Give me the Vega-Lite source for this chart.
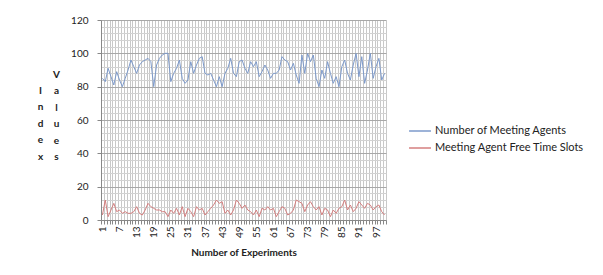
{
  "$schema": "https://vega.github.io/schema/vega-lite/v6.json",
  "width": 285,
  "height": 200,
  "autosize": "none",
  "padding": {"left": 101, "top": 20, "right": 217, "bottom": 55},
  "background": "white",
  "config": {"view": {"stroke": null}, "font": "Lato"},
  "data": {"values": [
    {"exp":1,"agents":85,"slots":3},{"exp":2,"agents":83,"slots":12},{"exp":3,"agents":91,"slots":2},{"exp":4,"agents":86,"slots":6},{"exp":5,"agents":81,"slots":10},
    {"exp":6,"agents":89,"slots":5},{"exp":7,"agents":84,"slots":6},{"exp":8,"agents":80,"slots":4},{"exp":9,"agents":85,"slots":5},{"exp":10,"agents":90,"slots":4},
    {"exp":11,"agents":96,"slots":4},{"exp":12,"agents":92,"slots":5},{"exp":13,"agents":88,"slots":8},{"exp":14,"agents":93,"slots":4},{"exp":15,"agents":95,"slots":3},
    {"exp":16,"agents":96,"slots":6},{"exp":17,"agents":97,"slots":10},{"exp":18,"agents":95,"slots":8},{"exp":19,"agents":80,"slots":7},{"exp":20,"agents":93,"slots":6},
    {"exp":21,"agents":97,"slots":6},{"exp":22,"agents":99,"slots":5},{"exp":23,"agents":100,"slots":5},{"exp":24,"agents":100,"slots":2},{"exp":25,"agents":83,"slots":6},
    {"exp":26,"agents":88,"slots":4},{"exp":27,"agents":91,"slots":7},{"exp":28,"agents":96,"slots":3},{"exp":29,"agents":85,"slots":8},{"exp":30,"agents":82,"slots":2},
    {"exp":31,"agents":84,"slots":7},{"exp":32,"agents":95,"slots":5},{"exp":33,"agents":88,"slots":2},{"exp":34,"agents":93,"slots":8},{"exp":35,"agents":97,"slots":6},
    {"exp":36,"agents":98,"slots":7},{"exp":37,"agents":88,"slots":3},{"exp":38,"agents":87,"slots":5},{"exp":39,"agents":88,"slots":7},{"exp":40,"agents":84,"slots":9},
    {"exp":41,"agents":80,"slots":12},{"exp":42,"agents":86,"slots":10},{"exp":43,"agents":80,"slots":11},{"exp":44,"agents":88,"slots":4},{"exp":45,"agents":91,"slots":6},
    {"exp":46,"agents":97,"slots":3},{"exp":47,"agents":88,"slots":6},{"exp":48,"agents":86,"slots":12},{"exp":49,"agents":95,"slots":10},{"exp":50,"agents":96,"slots":7},
    {"exp":51,"agents":91,"slots":9},{"exp":52,"agents":88,"slots":6},{"exp":53,"agents":95,"slots":5},{"exp":54,"agents":92,"slots":3},{"exp":55,"agents":95,"slots":6},
    {"exp":56,"agents":86,"slots":2},{"exp":57,"agents":89,"slots":7},{"exp":58,"agents":93,"slots":6},{"exp":59,"agents":90,"slots":8},{"exp":60,"agents":85,"slots":6},
    {"exp":61,"agents":88,"slots":7},{"exp":62,"agents":88,"slots":2},{"exp":63,"agents":90,"slots":5},{"exp":64,"agents":98,"slots":8},{"exp":65,"agents":96,"slots":7},
    {"exp":66,"agents":95,"slots":3},{"exp":67,"agents":90,"slots":4},{"exp":68,"agents":94,"slots":6},{"exp":69,"agents":87,"slots":12},{"exp":70,"agents":82,"slots":11},
    {"exp":71,"agents":99,"slots":10},{"exp":72,"agents":88,"slots":5},{"exp":73,"agents":100,"slots":9},{"exp":74,"agents":95,"slots":11},{"exp":75,"agents":99,"slots":8},
    {"exp":76,"agents":85,"slots":6},{"exp":77,"agents":80,"slots":8},{"exp":78,"agents":90,"slots":3},{"exp":79,"agents":85,"slots":7},{"exp":80,"agents":95,"slots":6},
    {"exp":81,"agents":88,"slots":2},{"exp":82,"agents":82,"slots":6},{"exp":83,"agents":86,"slots":4},{"exp":84,"agents":80,"slots":7},{"exp":85,"agents":92,"slots":8},
    {"exp":86,"agents":96,"slots":12},{"exp":87,"agents":88,"slots":6},{"exp":88,"agents":84,"slots":9},{"exp":89,"agents":93,"slots":5},{"exp":90,"agents":100,"slots":7},
    {"exp":91,"agents":86,"slots":11},{"exp":92,"agents":98,"slots":9},{"exp":93,"agents":82,"slots":7},{"exp":94,"agents":90,"slots":10},{"exp":95,"agents":100,"slots":9},
    {"exp":96,"agents":85,"slots":6},{"exp":97,"agents":92,"slots":8},{"exp":98,"agents":97,"slots":9},{"exp":99,"agents":84,"slots":5},{"exp":100,"agents":88,"slots":3}
  ]},
  "transform": [{"fold": ["agents", "slots"], "as": ["series", "value"]}],
  "layer": [
    {
      "mark": {"type": "line", "strokeWidth": 1},
      "encoding": {
        "x": {
          "field": "exp", "type": "ordinal",
          "scale": {"type": "band", "paddingInner": 0, "paddingOuter": 0},
          "bandPosition": 0.5,
          "axis": {
            "title": "Number of Experiments",
            "titleFontSize": 10, "titleFontWeight": "bold", "titleColor": "#222",
            "titleBaseline": "middle", "titleY": 32,
            "labelAngle": -90, "labelFontSize": 10, "labelColor": "#222", "labelPadding": 2,
            "labelExpr": "(datum.value - 1) % 6 == 0 ? datum.label : ''",
            "labelOverlap": false,
            "tickBand": "extent", "tickSize": 4, "tickColor": "#888",
            "grid": true, "gridColor": "#c8c8c8", "gridWidth": 1,
            "domainColor": "#888"
          }
        },
        "y": {
          "field": "value", "type": "quantitative",
          "scale": {"domain": [0, 120], "nice": false},
          "axis": {
            "values": [0,4,8,12,16,20,24,28,32,36,40,44,48,52,56,60,64,68,72,76,80,84,88,92,96,100,104,108,112,116,120],
            "labelExpr": "datum.value % 20 == 0 ? datum.label : ''",
            "labelOverlap": false,
            "labelFontSize": 10, "labelColor": "#222", "labelPadding": 9,
            "gridColor": {"condition": {"test": "datum.value % 20 == 0", "value": "#a8a8a8"}, "value": "#d2d2d2"},
            "tickOpacity": {"condition": {"test": "datum.value % 20 == 0", "value": 1}, "value": 0},
            "tickColor": "#888", "tickSize": 4,
            "domainColor": "#888",
            "title": ["V", "a", "l", "u", "e", "s"],
            "titleAngle": 0, "titleAlign": "center", "titleBaseline": "middle",
            "titleX": -45, "titleY": 54, "titleLineHeight": 16.5,
            "titleFontSize": 10, "titleFontWeight": "bold", "titleColor": "#222"
          }
        },
        "color": {
          "field": "series", "type": "nominal",
          "scale": {"domain": ["agents", "slots"], "range": ["#7d9acb", "#d47f7f"]},
          "legend": {
            "orient": "none", "legendX": 307, "legendY": 99,
            "title": null,
            "symbolType": "stroke", "symbolSize": 480, "symbolStrokeWidth": 1.5,
            "labelFontSize": 11, "labelColor": "#222", "labelOffset": 3,
            "rowPadding": 0,
            "labelExpr": "datum.label == 'agents' ? 'Number of Meeting Agents' : 'Meeting Agent Free Time Slots'"
          }
        }
      }
    },
    {
      "mark": {"type": "line", "opacity": 0},
      "encoding": {
        "x": {"field": "exp", "type": "ordinal", "bandPosition": 0.5},
        "y": {
          "field": "value", "type": "quantitative",
          "axis": {
            "orient": "left", "labels": false, "ticks": false, "domain": false, "grid": false,
            "title": ["I", "n", "d", "e", "x"],
            "titleAngle": 0, "titleAlign": "center", "titleBaseline": "middle",
            "titleX": -61, "titleY": 70, "titleLineHeight": 16.5,
            "titleFontSize": 10, "titleFontWeight": "bold", "titleColor": "#222"
          }
        },
        "detail": {"field": "series"}
      }
    }
  ],
  "resolve": {"axis": {"y": "independent"}}
}
